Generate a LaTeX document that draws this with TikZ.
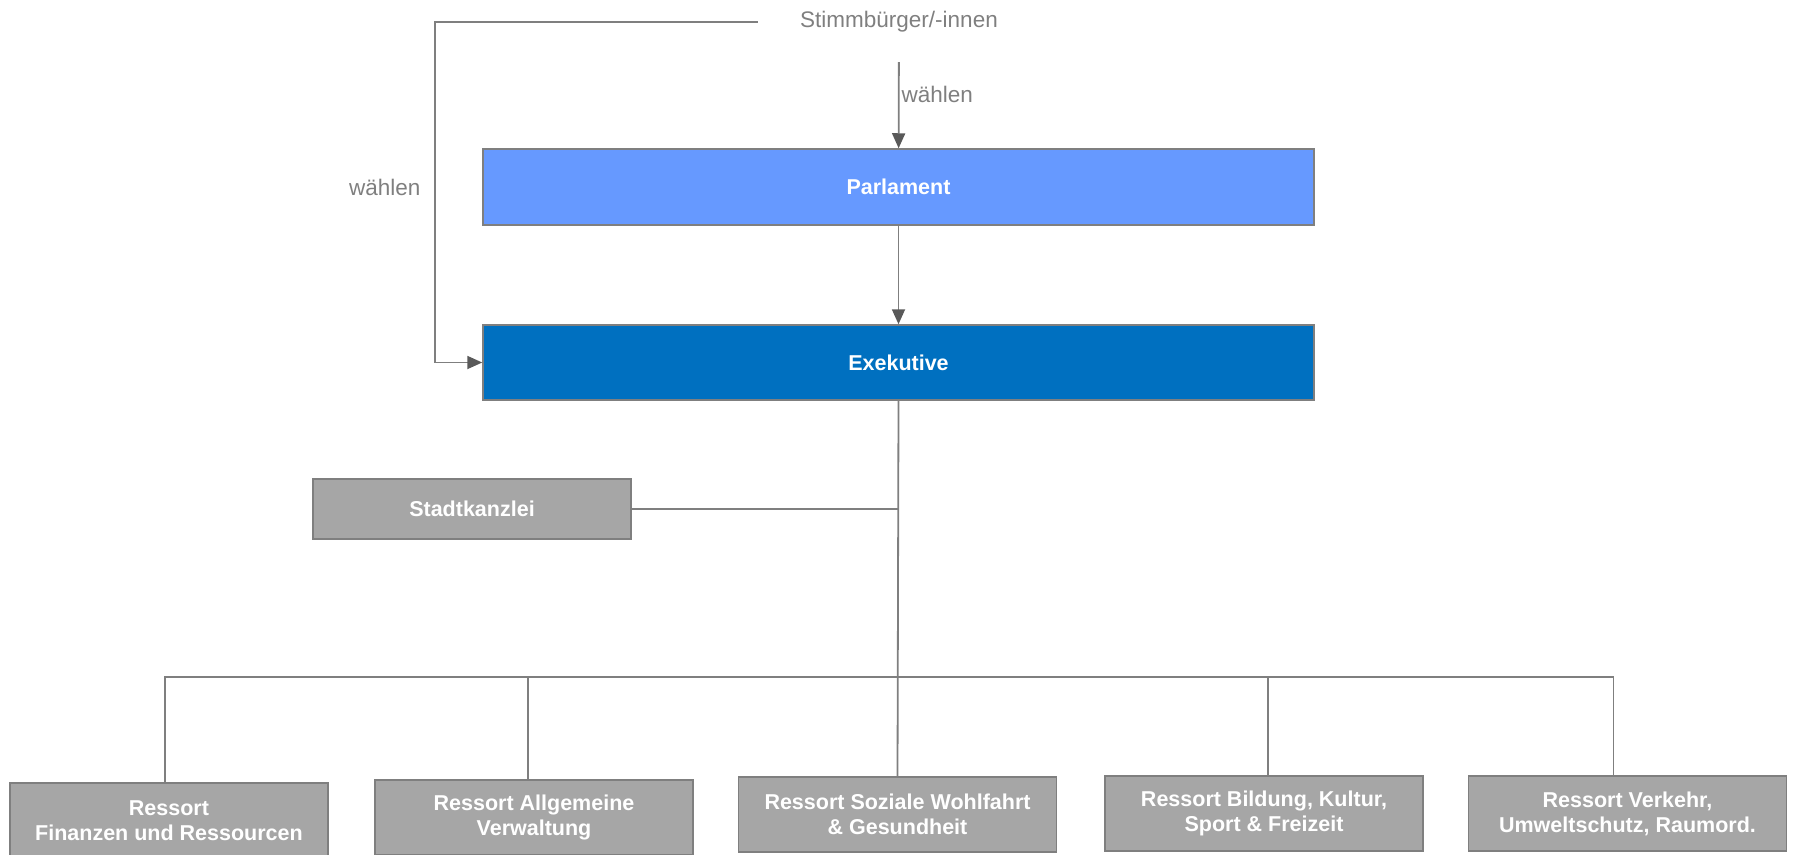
\documentclass[tikz,border=0pt]{standalone}
\usepackage{fontspec}
\setmainfont{Liberation Sans}
\usepackage{xcolor}
\usetikzlibrary{arrows.meta,positioning}
\definecolor{parlblue}{HTML}{6699FF}
\definecolor{exeblue}{HTML}{0070C0}
\definecolor{boxgray}{HTML}{A6A6A6}
\definecolor{linegray}{HTML}{7F7F7F}
\definecolor{headgray}{HTML}{595959}

\begin{document}
\begin{tikzpicture}[
  x=1pt, y=-1pt,
  box/.style={draw=linegray, line width=1.5pt, align=center, text=white, inner sep=0pt,
    font=\fontsize{21.5}{25}\selectfont\bfseries},
  org/.style={box, fill=boxgray, minimum width=318pt, minimum height=75pt},
  lbl/.style={text=linegray, font=\fontsize{22.5}{26}\selectfont},
  ln/.style={draw=linegray, line width=1.8pt},
  arr/.style={ln, -{Triangle[length=15pt, width=13pt, color=headgray]}}
]
\useasboundingbox (0,0) rectangle (1795,854);

\node[lbl] (stimm) at (899,22) {Stimmbürger/-innen};
\node[box, fill=parlblue, minimum width=831pt, minimum height=76pt] (parl) at (898.5,187) {Parlament};
\node[box, fill=exeblue, minimum width=831pt, minimum height=75pt] (exe) at (898.5,362.5) {Exekutive};
\node[org, minimum height=60pt] (kanzlei) at (472,509) {Stadtkanzlei};

\node[org] (fin) at (169,820.5) {Ressort\\Finanzen und Ressourcen};
\node[org] (allg) at (534,817.5) {Ressort Allgemeine\\Verwaltung};
\node[org] (soz) at (897.5,814.5) {Ressort Soziale Wohlfahrt\\\& Gesundheit};
\node[org] (bild) at (1264,813.5) {Ressort Bildung, Kultur,\\Sport \& Freizeit};
\node[org] (verk) at (1627.5,813.5) {Ressort Verkehr,\\Umweltschutz, Raumord.};

\coordinate (ecke) at (435,22);
\coordinate (bus) at (900,677);

\node[lbl, anchor=east] (wleft) at (424,187) {wählen};

\draw[arr, shorten <=26pt] (stimm) -- node[lbl, right, inner sep=2pt, pos=0.52] {wählen} (parl);
\draw[arr] ([xshift=-39pt]stimm.west) -- (ecke) |- (exe.west);
\draw[arr] (parl) -- (exe);

% Stadtkanzlei und Ressorts
\draw[ln] (exe.south) -- (soz.north);
\draw[ln] (kanzlei.east) -- (kanzlei.east -| exe.south);
\draw[ln] ([xshift=-4pt]fin.north) |- (bus);
\draw[ln] ([xshift=-6pt]allg.north) |- (bus);
\draw[ln] ([xshift=4pt]bild.north) |- (bus);
\draw[ln] ([xshift=-14pt]verk.north) |- (bus);
\end{tikzpicture}
\end{document}
